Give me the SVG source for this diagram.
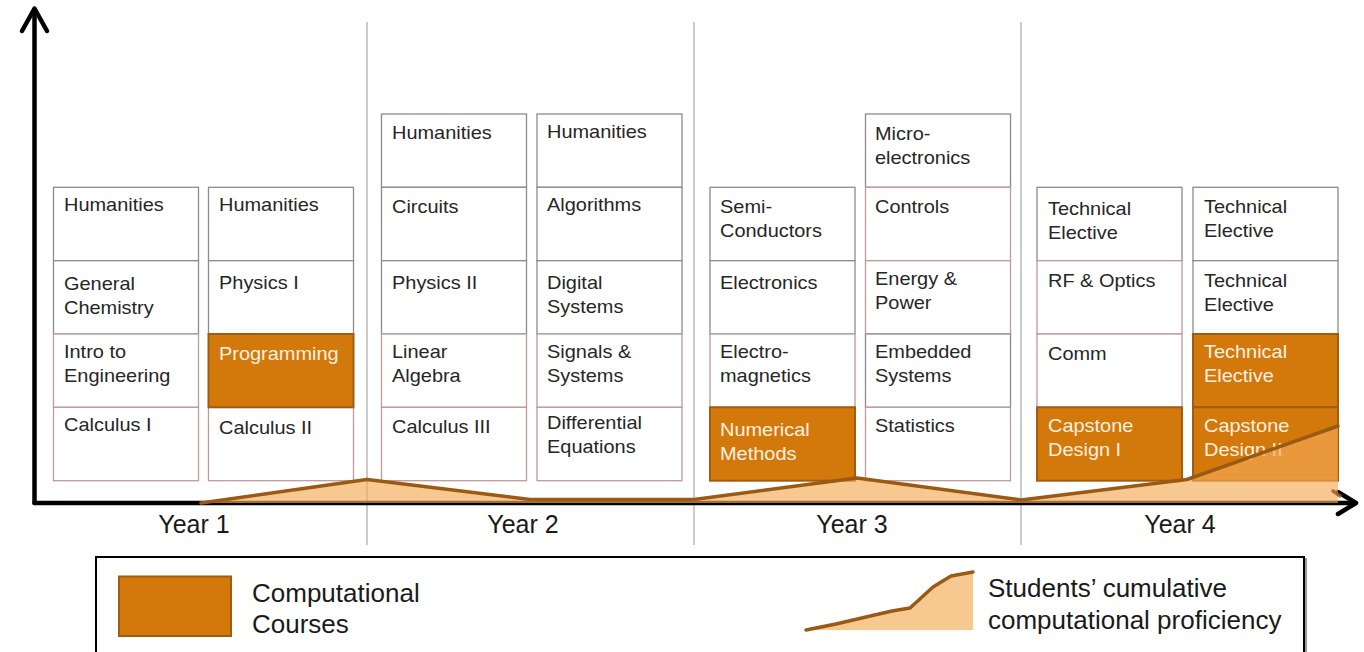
<svg xmlns="http://www.w3.org/2000/svg" width="1364" height="652" viewBox="0 0 1364 652">
<style>
.g{fill:#fff;stroke:#8c8c8c;stroke-width:1.3}
.p{fill:#fff;stroke:#bf9a9a;stroke-width:1.3}
.o{fill:#d3780b;stroke:#a05d0f;stroke-width:2}
.t{font-family:"Liberation Sans",Arial,sans-serif;font-size:17.5px;fill:#262626}
.w{font-family:"Liberation Sans",Arial,sans-serif;font-size:17.5px;fill:#fdf1e2}
.y{font-family:"Liberation Sans",Arial,sans-serif;font-size:25px;fill:#1a1a1a;text-anchor:middle}
.l{font-family:"Liberation Sans",Arial,sans-serif;font-size:26px;fill:#1a1a1a}
.div{stroke:#a8a8a8;stroke-width:1.2}
.ax{stroke:#000;stroke-width:4.5;fill:none;stroke-linecap:round;stroke-linejoin:round}
</style>

<g id="dividers">
<line class="div" x1="367" y1="22" x2="367" y2="545"/>
<line class="div" x1="694" y1="22" x2="694" y2="545"/>
<line class="div" x1="1021" y1="22" x2="1021" y2="545"/>
</g>

<!-- Year 1 column 1 -->
<g id="y1c1">
<rect class="g" x="53.5" y="187.3" width="145" height="73.4"/>
<rect class="g" x="53.5" y="260.7" width="145" height="73.3"/>
<rect class="p" x="53.5" y="334" width="145" height="73.3"/>
<rect class="p" x="53.5" y="407.3" width="145" height="73.4"/>
<text class="t" transform="translate(64 211) scale(1.14 1)">Humanities</text>
<text class="t" transform="translate(64 290) scale(1.14 1)"><tspan x="0">General</tspan><tspan x="0" dy="24">Chemistry</tspan></text>
<text class="t" transform="translate(64 358) scale(1.14 1)"><tspan x="0">Intro to</tspan><tspan x="0" dy="24">Engineering</tspan></text>
<text class="t" transform="translate(64 431) scale(1.14 1)">Calculus I</text>
</g>

<g id="y1c2">
<rect class="g" x="208.5" y="187.3" width="145" height="73.4"/>
<rect class="g" x="208.5" y="260.7" width="145" height="73.3"/>
<rect class="p" x="208.5" y="407.3" width="145" height="73.4"/>
<rect class="o" x="208.5" y="334" width="145" height="73.3"/>
<text class="t" transform="translate(219 211) scale(1.14 1)">Humanities</text>
<text class="t" transform="translate(219 289) scale(1.14 1)">Physics I</text>
<text class="w" transform="translate(219 360) scale(1.14 1)">Programming</text>
<text class="t" transform="translate(219 434) scale(1.14 1)">Calculus II</text>
</g>

<g id="y2c1">
<rect class="g" x="381.5" y="114" width="145" height="73.3"/>
<rect class="g" x="381.5" y="187.3" width="145" height="73.4"/>
<rect class="g" x="381.5" y="260.7" width="145" height="73.3"/>
<rect class="p" x="381.5" y="334" width="145" height="73.3"/>
<rect class="p" x="381.5" y="407.3" width="145" height="73.4"/>
<text class="t" transform="translate(392 139) scale(1.14 1)">Humanities</text>
<text class="t" transform="translate(392 213) scale(1.14 1)">Circuits</text>
<text class="t" transform="translate(392 289) scale(1.14 1)">Physics II</text>
<text class="t" transform="translate(392 358) scale(1.14 1)"><tspan x="0">Linear</tspan><tspan x="0" dy="24">Algebra</tspan></text>
<text class="t" transform="translate(392 433) scale(1.14 1)">Calculus III</text>
</g>

<g id="y2c2">
<rect class="g" x="537" y="114" width="145" height="73.3"/>
<rect class="g" x="537" y="187.3" width="145" height="73.4"/>
<rect class="g" x="537" y="260.7" width="145" height="73.3"/>
<rect class="p" x="537" y="334" width="145" height="73.3"/>
<rect class="p" x="537" y="407.3" width="145" height="73.4"/>
<text class="t" transform="translate(547 138) scale(1.14 1)">Humanities</text>
<text class="t" transform="translate(547 211) scale(1.14 1)">Algorithms</text>
<text class="t" transform="translate(547 289) scale(1.14 1)"><tspan x="0">Digital</tspan><tspan x="0" dy="24">Systems</tspan></text>
<text class="t" transform="translate(547 358) scale(1.14 1)"><tspan x="0">Signals &amp;</tspan><tspan x="0" dy="24">Systems</tspan></text>
<text class="t" transform="translate(547 429) scale(1.14 1)"><tspan x="0">Differential</tspan><tspan x="0" dy="24">Equations</tspan></text>
</g>

<g id="y3c1">
<rect class="g" x="710" y="187.3" width="145" height="73.4"/>
<rect class="g" x="710" y="260.7" width="145" height="73.3"/>
<rect class="p" x="710" y="334" width="145" height="73.3"/>
<rect class="o" x="710" y="407.3" width="145" height="73.4"/>
<text class="t" transform="translate(720 213) scale(1.14 1)"><tspan x="0">Semi-</tspan><tspan x="0" dy="24">Conductors</tspan></text>
<text class="t" transform="translate(720 289) scale(1.14 1)">Electronics</text>
<text class="t" transform="translate(720 358) scale(1.14 1)"><tspan x="0">Electro-</tspan><tspan x="0" dy="24">magnetics</tspan></text>
<text class="w" transform="translate(720 436) scale(1.14 1)"><tspan x="0">Numerical</tspan><tspan x="0" dy="24">Methods</tspan></text>
</g>

<g id="y3c2">
<rect class="g" x="865.5" y="114" width="145" height="73.3"/>
<rect class="p" x="865.5" y="187.3" width="145" height="73.4"/>
<rect class="p" x="865.5" y="260.7" width="145" height="73.3"/>
<rect class="g" x="865.5" y="334" width="145" height="73.3"/>
<rect class="p" x="865.5" y="407.3" width="145" height="73.4"/>
<text class="t" transform="translate(875 140) scale(1.14 1)"><tspan x="0">Micro-</tspan><tspan x="0" dy="24">electronics</tspan></text>
<text class="t" transform="translate(875 213) scale(1.14 1)">Controls</text>
<text class="t" transform="translate(875 285) scale(1.14 1)"><tspan x="0">Energy &amp;</tspan><tspan x="0" dy="24">Power</tspan></text>
<text class="t" transform="translate(875 358) scale(1.14 1)"><tspan x="0">Embedded</tspan><tspan x="0" dy="24">Systems</tspan></text>
<text class="t" transform="translate(875 432) scale(1.14 1)">Statistics</text>
</g>

<g id="y4c1">
<rect class="g" x="1037" y="187.3" width="145" height="73.4"/>
<rect class="p" x="1037" y="260.7" width="145" height="73.3"/>
<rect class="p" x="1037" y="334" width="145" height="73.3"/>
<rect class="o" x="1037" y="407.3" width="145" height="73.4"/>
<text class="t" transform="translate(1048 215) scale(1.14 1)"><tspan x="0">Technical</tspan><tspan x="0" dy="24">Elective</tspan></text>
<text class="t" transform="translate(1048 287) scale(1.14 1)">RF &amp; Optics</text>
<text class="t" transform="translate(1048 360) scale(1.14 1)">Comm</text>
<text class="w" transform="translate(1048 432) scale(1.14 1)"><tspan x="0">Capstone</tspan><tspan x="0" dy="24">Design I</tspan></text>
</g>

<g id="y4c2">
<rect class="g" x="1193" y="187.3" width="145" height="73.4"/>
<rect class="g" x="1193" y="260.7" width="145" height="73.3"/>
<rect class="o" x="1193" y="334" width="145" height="73.3"/>
<rect class="o" x="1193" y="407.3" width="145" height="73.4"/>
<text class="t" transform="translate(1204 213) scale(1.14 1)"><tspan x="0">Technical</tspan><tspan x="0" dy="24">Elective</tspan></text>
<text class="t" transform="translate(1204 287) scale(1.14 1)"><tspan x="0">Technical</tspan><tspan x="0" dy="24">Elective</tspan></text>
<text class="w" transform="translate(1204 358) scale(1.14 1)"><tspan x="0">Technical</tspan><tspan x="0" dy="24">Elective</tspan></text>
<text class="w" transform="translate(1204 432) scale(1.14 1)"><tspan x="0">Capstone</tspan><tspan x="0" dy="24">Design II</tspan></text>
</g>

<g id="axes">
<line class="ax" x1="34.5" y1="10" x2="34.5" y2="503"/>
<line class="ax" x1="34.5" y1="503" x2="1354" y2="503"/>
<polyline class="ax" points="22,31 34.5,8.5 47,31"/>
<polyline class="ax" points="1338,492 1356,503 1338,514"/>
</g>

<g id="proficiency">
<polygon points="201,503 367,479.5 530,499.5 694,499.5 857,478 1021,500 1187,479.5 1338,426 1338,503" fill="#f4ab56" fill-opacity="0.65"/>
<polyline points="201,503 367,479.5 530,499.5 694,499.5 857,478 1021,500 1187,479.5 1338,426" fill="none" stroke="#9a5a14" stroke-width="3.5" stroke-linejoin="round" stroke-linecap="round"/>
<line x1="1333" y1="491" x2="1340" y2="496" stroke="#9a5a14" stroke-width="3.5" stroke-linecap="round" stroke-opacity="0.8"/>
</g>

<g id="years">
<text class="y" x="194" y="533">Year 1</text>
<text class="y" x="523" y="533">Year 2</text>
<text class="y" x="852" y="533">Year 3</text>
<text class="y" x="1180" y="533">Year 4</text>
</g>

<g id="legend">
<rect x="98" y="559" width="1208" height="100" fill="none" stroke="#9a9a9a" stroke-width="2"/>
<rect x="96" y="557" width="1208" height="100" fill="#fff" stroke="#000" stroke-width="2"/>
<rect x="119" y="576.5" width="112" height="59.5" fill="#d3780b" stroke="#a05d0f" stroke-width="2"/>
<text class="l" x="252" y="602">Computational</text>
<text class="l" x="252" y="633">Courses</text>
<polygon points="806,630 836,624 866,617 892,611 910,608 933,587 951,576 973,572 973,630" fill="#f4ab56" fill-opacity="0.65"/>
<polyline points="806,630 836,624 866,617 892,611 910,608 933,587 951,576 973,572" fill="none" stroke="#9a5a14" stroke-width="3.5" stroke-linejoin="round" stroke-linecap="round"/>
<text class="l" x="988" y="597">Students’ cumulative</text>
<text class="l" x="988" y="629">computational proficiency</text>
</g>
</svg>
